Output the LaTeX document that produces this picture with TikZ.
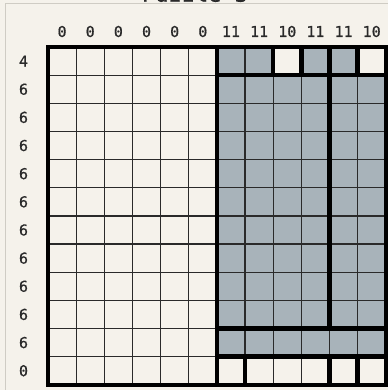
\documentclass[tikz,border=0pt]{standalone}
\usepackage{fontspec}
\newfontfamily\labfont[FakeBold=0.6]{DejaVu Sans Mono}
\definecolor{bg}{HTML}{F5F2EB}
\definecolor{fillc}{HTML}{A8B3BA}
\definecolor{thinc}{HTML}{2A2A2A}
\definecolor{framec}{HTML}{CFCCC4}
\begin{document}
\begin{tikzpicture}[x=1pt,y=-1pt,
  lab/.style={font=\labfont\fontsize{15}{17}\selectfont, text=thinc, inner sep=0pt},
  thinline/.style={draw=thinc, line width=1.2pt},
  thickline/.style={draw=black, line width=4.5pt, line cap=square}]
\fill[bg] (0,0) rectangle (388,390);
\useasboundingbox (0,0) rectangle (388,390);
\draw[framec, line width=1pt] (5,390) -- (5,4) -- (388,4);
\node[font=\labfont\fontsize{22}{24}\selectfont, anchor=base, text=thinc, inner sep=0pt] (title) at (195,1.7) {Puzzle 3};
\begin{scope}[shift={(48pt,-47pt)}, x=28.15pt, y=-28.15pt]
  % shaded cells
  \fill[fillc] (6,0) rectangle (8,1);
  \fill[fillc] (9,0) rectangle (11,1);
  \fill[fillc] (6,1) rectangle (12,11);
  % thin grid
  \foreach \i in {1,...,11} {
    \draw[thinline] (\i,-0.07) -- (\i,12.07);
    \draw[thinline] (-0.07,\i) -- (12.07,\i);
  }
  % thick region borders
  \draw[thickline] (0,0) rectangle (12,12);
  \draw[thickline] (6,0) -- (6,12);
  \draw[thickline] (10,0) -- (10,10);
  \draw[thickline] (8,0) -- (8,1);
  \draw[thickline] (9,0) -- (9,1);
  \draw[thickline] (11,0) -- (11,1);
  \draw[thickline] (6,1) -- (12,1);
  \draw[thickline] (6,10) -- (12,10);
  \draw[thickline] (6,11) -- (12,11);
  \draw[thickline] (7,11) -- (7,12);
  \draw[thickline] (10,11) -- (10,12);
  \draw[thickline] (11,11) -- (11,12);
  % column labels
  \foreach \v [count=\k from 0] in {0,0,0,0,0,0,11,11,10,11,11,10} {
    \node[lab] (c\k) at (\k+0.5,-0.55) {\v};
  }
  % row labels
  \foreach \v [count=\k from 0] in {4,6,6,6,6,6,6,6,6,6,6,0} {
    \node[lab] (r\k) at (-0.87,\k+0.5) {\v};
  }
\end{scope}
\end{tikzpicture}
\end{document}
